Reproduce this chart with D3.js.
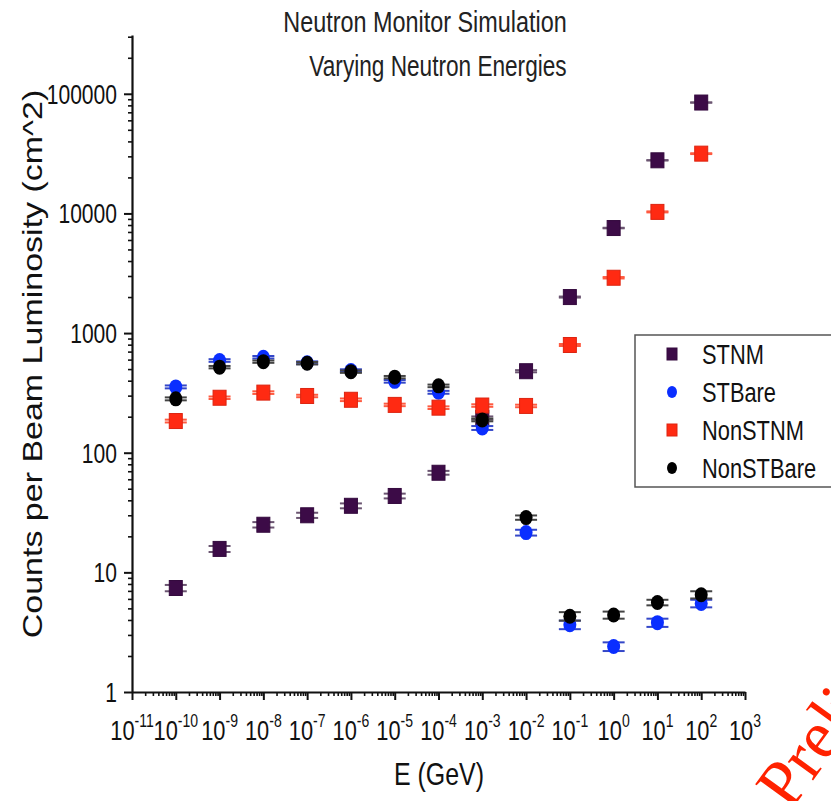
<!DOCTYPE html>
<html>
<head>
<meta charset="utf-8">
<script src="https://cdn.jsdelivr.net/npm/d3@7"></script>
<style>
  body { margin: 0; background: #fff; }
  svg { display: block; font-family: "Liberation Sans", Arial, sans-serif; }
</style>
</head>
<body>
<div id="chart"></div>
<script>
// energies in GeV (x axis)
var energies = [1e-10, 1e-9, 1e-8, 1e-7, 1e-6, 1e-5, 1e-4, 1e-3, 1e-2, 1e-1, 1e0, 1e1, 1e2];

// counts per beam luminosity
var stnm      = [7.4, 15.7, 25, 30, 36, 43.5, 68, 195, 480, 2000, 7550, 27800, 84500];
var stnmErr   = [0.45, 0.9, 1.3, 1.5, 1.7, 2.0, 2.5, 6, 10, 20, 40, 80, 150];
var stbare    = [355, 590, 628, 565, 486, 395, 320, 161, 21.5, 3.65, 2.4, 3.8, 5.5];
var stbareErr = [10, 15, 15, 15, 12, 10, 9, 6, 1.2, 0.3, 0.2, 0.3, 0.4];
var nonstnm   = [184, 288, 318, 298, 277, 251, 238, 248, 246, 795, 2900, 10300, 31600];
var nonstnmErr= [5, 7, 8, 7, 7, 6, 6, 6, 6, 15, 40, 100, 250];
var nonstbare = [282, 519, 577, 560, 476, 428, 362, 188, 28.7, 4.3, 4.4, 5.6, 6.5];
var nonstbareErr = [8, 12, 13, 13, 11, 10, 9, 5, 1.2, 0.35, 0.3, 0.3, 0.45];

var seriesNames = ["STNM", "STBare", "NonSTNM", "NonSTBare"];

// tick labels
var xExponents = [-11, -10, -9, -8, -7, -6, -5, -4, -3, -2, -1, 0, 1, 2, 3];
var yTickLabels = ["1", "10", "100", "1000", "10000", "100000"];

var W = 831, H = 801;
var SX = 0.78; // the picture is squeezed sideways, so is the text

var svg = d3.select("#chart").append("svg")
    .attr("width", W)
    .attr("height", H);

var x = d3.scaleLog().domain([1e-11, 1e3]).range([132, 745]);
var y = d3.scaleLog().domain([1, 3.1e5]).range([692, 35]);

// minor tick values 2..9 per decade
var xMinor = [];
for (var e = -11; e < 3; e++) {
  for (var k = 2; k < 10; k++) xMinor.push(k * Math.pow(10, e));
}
var yMinor = [];
for (var e2 = 0; e2 < 6; e2++) {
  for (var k2 = 2; k2 < 10; k2++) {
    var v = k2 * Math.pow(10, e2);
    if (v <= 3.1e5) yMinor.push(v);
  }
}

// X axis
svg.append("g")
    .attr("transform", "translate(0,692)")
    .call(d3.axisBottom(x).tickValues(xMinor).tickSize(4).tickFormat(""))
    .call(function(g) { g.select(".domain").remove(); })
    .selectAll("line").attr("stroke", "#111").attr("stroke-width", 1.6);

var xAxis = svg.append("g")
    .attr("transform", "translate(0,692)")
    .call(d3.axisBottom(x)
      .tickValues(xExponents.map(function(p) { return Math.pow(10, p); }))
      .tickSize(8).tickSizeOuter(0).tickFormat(""));
xAxis.select(".domain").attr("stroke", "#111").attr("stroke-width", 2.2);
xAxis.selectAll("line").attr("stroke", "#111").attr("stroke-width", 2);

// Y axis
svg.append("g")
    .attr("transform", "translate(132,0)")
    .call(d3.axisLeft(y).tickValues(yMinor).tickSize(4).tickFormat(""))
    .call(function(g) { g.select(".domain").remove(); })
    .selectAll("line").attr("stroke", "#111").attr("stroke-width", 1.6);

var yAxis = svg.append("g")
    .attr("transform", "translate(132,0)")
    .call(d3.axisLeft(y)
      .tickValues(yTickLabels.map(Number))
      .tickSize(8).tickSizeOuter(0).tickFormat(""));
yAxis.select(".domain").attr("stroke", "#111").attr("stroke-width", 2.2);
yAxis.selectAll("line").attr("stroke", "#111").attr("stroke-width", 2);

// y tick labels
svg.append("g").selectAll("text")
  .data(yTickLabels)
  .enter().append("text")
    .attr("transform", function(d) { return "translate(117," + (y(+d) + 10) + ") scale(" + SX + ",1)"; })
    .attr("text-anchor", "end")
    .attr("font-size", 27)
    .attr("fill", "#111")
    .text(function(d) { return d; });

// x tick labels: 10 with superscript exponent
var xl = svg.append("g").selectAll("text")
  .data(xExponents)
  .enter().append("text")
    .attr("transform", function(d) { return "translate(" + x(Math.pow(10, d)) + ",740) scale(" + SX + ",1)"; })
    .attr("text-anchor", "middle")
    .attr("font-size", 28)
    .attr("fill", "#111");
xl.append("tspan").text("10");
xl.append("tspan")
    .attr("font-size", 18)
    .attr("dy", -13)
    .text(function(d) { return d; });

// titles
svg.append("text")
    .attr("transform", "translate(425,32) scale(" + SX + ",1)")
    .attr("text-anchor", "middle")
    .attr("font-size", 30)
    .attr("fill", "#222")
    .text("Neutron Monitor Simulation");

svg.append("text")
    .attr("transform", "translate(438,76) scale(" + SX + ",1)")
    .attr("text-anchor", "middle")
    .attr("font-size", 29)
    .attr("fill", "#222")
    .text("Varying Neutron Energies");

svg.append("text")
    .attr("transform", "translate(439,785) scale(" + SX + ",1)")
    .attr("text-anchor", "middle")
    .attr("font-size", 32)
    .attr("fill", "#111")
    .text("E (GeV)");

svg.append("text")
    .attr("transform", "translate(42,364) rotate(-90) scale(1,0.82)")
    .attr("text-anchor", "middle")
    .attr("font-size", 34)
    .attr("fill", "#111")
    .text("Counts per Beam Luminosity (cm^2)");

// series
var series = [
  {name: "STNM", vals: stnm, errs: stnmErr, shape: "square", fill: "#3c0b47", cap: "#6b5571"},
  {name: "STBare", vals: stbare, errs: stbareErr, shape: "circle", fill: "#0a2eff", cap: "#3447c8"},
  {name: "NonSTNM", vals: nonstnm, errs: nonstnmErr, shape: "square", fill: "#ff2a12", cap: "#ff5a40"},
  {name: "NonSTBare", vals: nonstbare, errs: nonstbareErr, shape: "circle", fill: "#000000", cap: "#444444"}
];

function drawMarker(g, s, cx, cy, w, h) {
  if (s.shape === "square") {
    g.append("rect")
      .attr("x", cx - w / 2).attr("y", cy - h / 2)
      .attr("width", w).attr("height", h)
      .attr("fill", s.fill)
      .attr("stroke", d3.color(s.fill).darker(0.4)).attr("stroke-width", 1);
  } else {
    g.append("ellipse")
      .attr("cx", cx).attr("cy", cy)
      .attr("rx", w / 2).attr("ry", h / 2)
      .attr("fill", s.fill);
  }
}

series.forEach(function(s) {
  var g = svg.append("g").attr("class", "series");
  energies.forEach(function(en, i) {
    var cx = x(en);
    var lo = y(s.vals[i] - s.errs[i]);
    var hi = y(s.vals[i] + s.errs[i]);
    g.append("line")
      .attr("x1", cx).attr("x2", cx).attr("y1", lo).attr("y2", hi)
      .attr("stroke", s.cap).attr("stroke-width", 2);
    [lo, hi].forEach(function(yy) {
      g.append("line")
        .attr("x1", cx - 11).attr("x2", cx + 11).attr("y1", yy).attr("y2", yy)
        .attr("stroke", s.cap).attr("stroke-width", 2);
    });
    drawMarker(g, s, cx, y(s.vals[i]), 13, 15);
  });
});

// legend
var leg = svg.append("g").attr("transform", "translate(635,335)");
leg.append("rect")
    .attr("x", 0).attr("y", 0).attr("width", 220).attr("height", 152)
    .attr("fill", "#fff").attr("stroke", "#555").attr("stroke-width", 1.5);
series.forEach(function(s, i) {
  var ly = 19 + i * 38;
  drawMarker(leg, s, 37, ly, 10, 12);
  leg.append("text")
    .attr("transform", "translate(67," + (ly + 10) + ") scale(" + SX + ",1)")
    .attr("font-size", 28)
    .attr("fill", "#111")
    .text(s.name);
});

// watermark, runs off the page as in the source
svg.append("text")
    .attr("transform", "translate(790,812) rotate(-54)")
    .attr("font-family", "'Liberation Serif', 'Times New Roman', serif")
    .attr("font-size", 68)
    .attr("fill", "#ff2200")
    .text("Preliminary");
</script>
</body>
</html>
